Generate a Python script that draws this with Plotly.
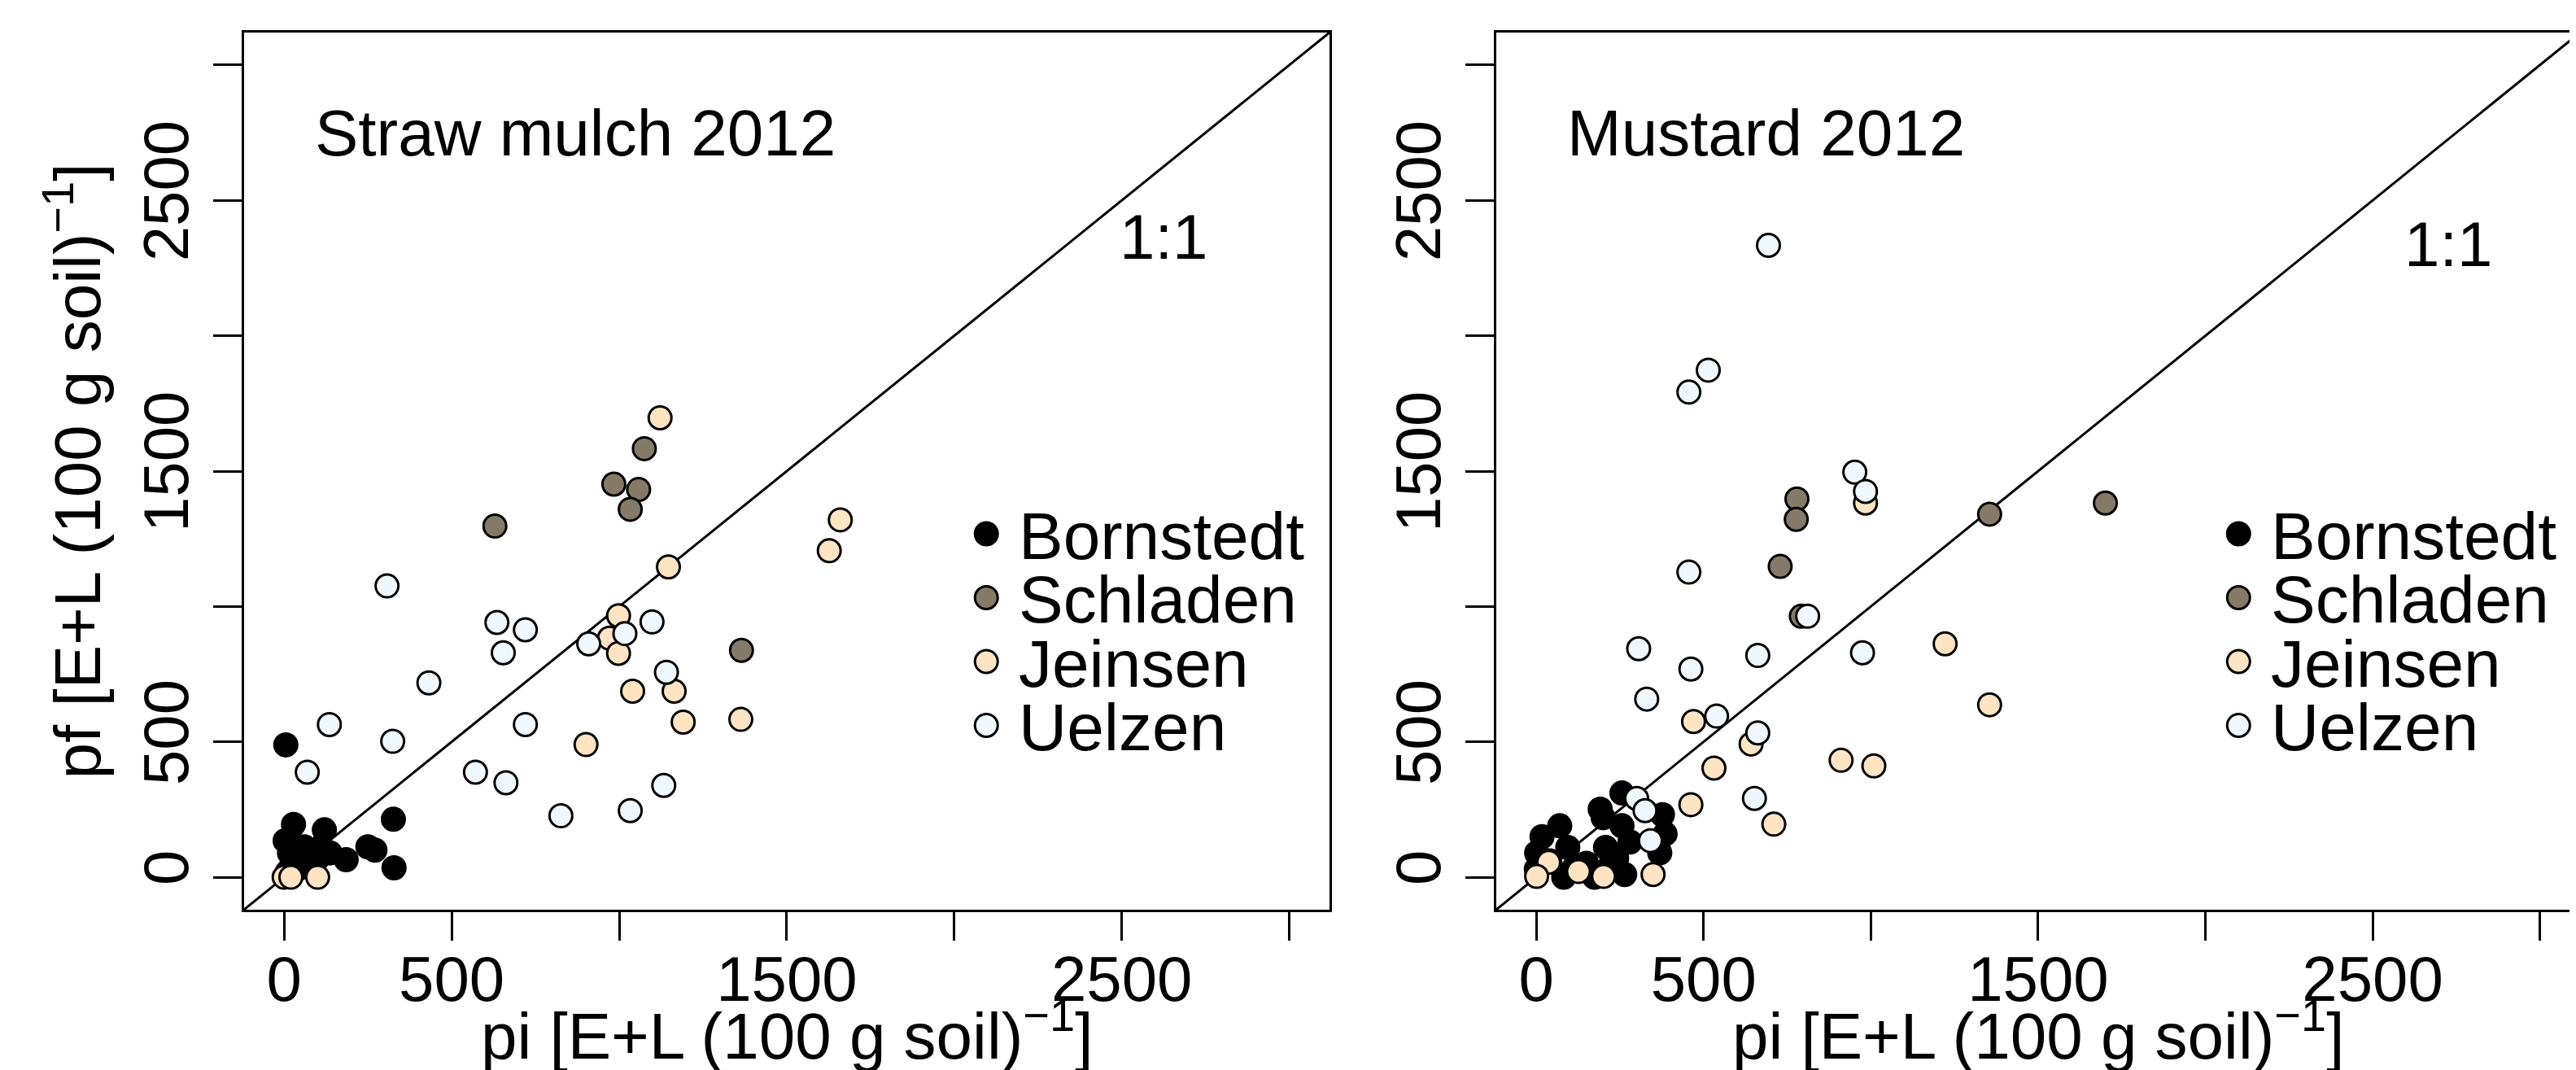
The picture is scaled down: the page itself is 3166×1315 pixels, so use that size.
import plotly.graph_objects as go

# ---------------- data ----------------
SITES = ["Bornstedt", "Schladen", "Jeinsen", "Uelzen"]
SITE_COLORS = ["#000000", "#857968", "#FFE4C4", "#F0F8FF"]

PANEL_TITLES = ["Straw mulch 2012", "Mustard 2012"]

AX_RANGE = [-120, 3120]
TICK_VALS = [0, 500, 1000, 1500, 2000, 2500, 3000]
TICK_TEXT = ["0", "500", "", "1500", "", "2500", ""]

# Straw mulch 2012
straw_bornstedt_pi = [5, 28, 120, 326, 3, 16, 60, 110, 137, 185, 250, 271, 328, 24, 60, 100, 40, 10]
straw_bornstedt_pf = [489, 195, 175, 214, 135, 90, 112, 112, 90, 65, 112, 100, 35, 51, 60, 70, 30, 20]
straw_schladen_pi = [1075, 984, 1058, 1033, 629, 1365]
straw_schladen_pf = [1583, 1452, 1432, 1359, 1297, 838]
straw_jeinsen_pi = [1122, 1660, 1627, 1147, 998, 971, 998, 1040, 1164, 1191, 1363, 901, 0, 20, 100]
straw_jeinsen_pf = [1697, 1320, 1206, 1146, 966, 883, 827, 687, 687, 573, 583, 490, 0, 0, 0]
straw_uelzen_pi = [307, 635, 720, 654, 909, 1017, 1098, 1141, 432, 135, 324, 720, 69, 571, 662, 1133, 826, 1033]
straw_uelzen_pf = [1076, 941, 914, 829, 862, 900, 943, 757, 718, 564, 502, 564, 388, 388, 349, 339, 227, 246]

# Mustard 2012
must_bornstedt_pi = [256, 191, 200, 70, 17, 1, 256, 240, 377, 385, 369, 150, 264, 82, 174, 207, 94, 0, 40, 280, 220, 110]
must_bornstedt_pf = [311, 251, 220, 190, 150, 90, 190, 70, 231, 160, 90, 51, 10, 0, 0, 110, 110, 30, 60, 130, 40, 30]
must_schladen_pi = [779, 777, 729, 792, 1355, 1701]
must_schladen_pf = [1397, 1322, 1148, 964, 1341, 1382]
must_jeinsen_pi = [984, 1222, 1355, 470, 642, 531, 911, 1009, 462, 710, 349, 201, 126, 37, 1]
must_jeinsen_pf = [1382, 862, 637, 575, 492, 403, 432, 411, 268, 196, 10, 3, 21, 55, 3]
must_uelzen_pi = [694, 514, 456, 952, 984, 456, 811, 975, 662, 306, 462, 330, 539, 662, 652, 300, 325, 341]
must_uelzen_pf = [2334, 1873, 1792, 1496, 1425, 1127, 964, 829, 819, 844, 769, 658, 595, 533, 291, 291, 246, 135]

PANELS = [
    [(straw_bornstedt_pi, straw_bornstedt_pf), (straw_schladen_pi, straw_schladen_pf),
     (straw_jeinsen_pi, straw_jeinsen_pf), (straw_uelzen_pi, straw_uelzen_pf)],
    [(must_bornstedt_pi, must_bornstedt_pf), (must_schladen_pi, must_schladen_pf),
     (must_jeinsen_pi, must_jeinsen_pf), (must_uelzen_pi, must_uelzen_pf)],
]

# ---------------- layout geometry ----------------
W, H = 3166, 1315
FONT = "Liberation Sans, Arial, Helvetica, sans-serif"
X_DOMAINS = [[292 / W, 1627 / W], [1832 / W, 3165 / W]]
Y_DOMAIN = [1 - 1110 / H, 1 - 32 / H]

fig = go.Figure()

for p, series in enumerate(PANELS):
    xa = "x" if p == 0 else "x2"
    ya = "y" if p == 0 else "y2"
    for s, (xs, ys) in enumerate(series):
        fig.add_trace(go.Scatter(
            x=xs, y=ys, mode="markers", name=SITES[s], showlegend=False,
            xaxis=xa, yaxis=ya,
            marker=dict(size=28, color=SITE_COLORS[s], line=dict(color="black", width=3)),
        ))

axis_common = dict(
    range=AX_RANGE, tickvals=TICK_VALS, ticktext=TICK_TEXT,
    ticks="outside", ticklen=35, tickwidth=3, tickcolor="black",
    showline=True, linewidth=3, linecolor="black", mirror=True,
    showgrid=False, zeroline=False,
    tickfont=dict(family=FONT, size=78, color="black"),
)

xtitle = "pi [E+L (100 g soil)<sup>\u22121</sup>]"
ytitle = "pf [E+L (100 g soil)<sup>\u22121</sup>]"

fig.update_layout(
    width=W, height=H,
    margin=dict(l=0, r=0, t=0, b=0),
    paper_bgcolor="white", plot_bgcolor="white",
    font=dict(family=FONT, color="black"),
    xaxis=dict(domain=X_DOMAINS[0], anchor="y", ticklabelstandoff=-20, **axis_common),
    yaxis=dict(domain=Y_DOMAIN, anchor="x", tickangle=-90, **axis_common,
               title=dict(text=ytitle, font=dict(size=80), standoff=10)),
    xaxis2=dict(domain=X_DOMAINS[1], anchor="y2", ticklabelstandoff=-20, **axis_common),
    yaxis2=dict(domain=Y_DOMAIN, anchor="x2", tickangle=-90, **axis_common),
)

shapes = []
annotations = []
for p in range(2):
    xr = "x" if p == 0 else "x2"
    yr = "y" if p == 0 else "y2"
    # 1:1 line
    shapes.append(dict(type="line", xref=xr, yref=yr,
                       x0=AX_RANGE[0], y0=AX_RANGE[0], x1=AX_RANGE[1], y1=AX_RANGE[1],
                       line=dict(color="black", width=3), layer="below"))
    # x axis title
    annotations.append(dict(text=xtitle, xref=xr + " domain", yref="paper",
                            x=0.5, y=0, yshift=3, xanchor="center", yanchor="bottom",
                            showarrow=False, font=dict(size=80, family=FONT, color="black")))
    # panel title
    annotations.append(dict(text=PANEL_TITLES[p], xref=xr + " domain", yref="paper",
                            x=85 / 1335, y=1 - 155 / H, xanchor="left", yanchor="middle",
                            showarrow=False, font=dict(size=80, family=FONT, color="black")))
    # 1:1 label
    lx = 1423 if p == 0 else 3003
    ly = 283 if p == 0 else 292
    annotations.append(dict(text="1:1", xref="paper", yref="paper",
                            x=lx / W, y=1 - ly / H, xanchor="center", yanchor="middle",
                            showarrow=False, font=dict(size=78, family=FONT, color="black")))
    # legend
    sx = 1205 if p == 0 else 2745
    tx = 1243 if p == 0 else 2783
    for s, name in enumerate(SITES):
        cy = 648 + s * 78.5
        shapes.append(dict(type="circle", xref="paper", yref="paper",
                           xsizemode="pixel", ysizemode="pixel",
                           xanchor=sx / W, yanchor=1 - cy / H,
                           x0=-14, x1=14, y0=-14, y1=14,
                           line=dict(color="black", width=3), fillcolor=SITE_COLORS[s]))
        annotations.append(dict(text=name, xref="paper", yref="paper",
                                x=tx / W, y=1 - (cy + 2) / H, xanchor="left", yanchor="middle",
                                showarrow=False, font=dict(size=82, family=FONT, color="black")))

fig.update_layout(shapes=shapes, annotations=annotations)
fig.write_html("out.html")
